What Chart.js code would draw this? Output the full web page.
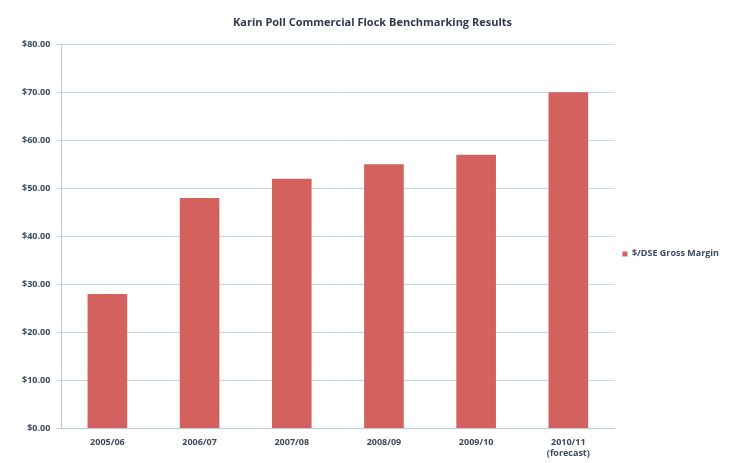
<!DOCTYPE html>
<html>
<head>
<meta charset="utf-8">
<script src="https://cdn.jsdelivr.net/npm/chart.js@4"></script>
<style>
  html, body { margin: 0; padding: 0; background: #fff; }
  #wrap { width: 753px; height: 463px; position: relative; }
</style>
</head>
<body>
<div id="wrap"><canvas id="gmChart"></canvas></div>
<script>
const seasons = ['2005/06', '2006/07', '2007/08', '2008/09', '2009/10', ['2010/11', '(forecast)']];
const grossMargin = [28, 48, 52, 55, 57, 70];
const yTicks = [0, 10, 20, 30, 40, 50, 60, 70, 80];

const ctx = document.getElementById('gmChart').getContext('2d');

new Chart(ctx, {
    type: 'bar',
    data: {
        labels: seasons,
        datasets: [{
            label: '$/DSE Gross Margin',
            data: grossMargin,
            backgroundColor: '#d3625e',
            borderWidth: 0,
            categoryPercentage: 1,
            barPercentage: 0.43
        }]
    },
    options: {
        responsive: true,
        maintainAspectRatio: false,
        animation: false,
        layout: { padding: { top: 14, right: 24, left: 16, bottom: -5 } },
        scales: {
            x: {
                grid: { display: false, drawTicks: false },
                border: { color: '#b9c9d9' },
                ticks: {
                    color: '#3b4a5e',
                    font: { family: 'Open Sans', size: 9, weight: 'bold' },
                    maxRotation: 0,
                    padding: 9
                }
            },
            y: {
                min: 0,
                max: 80,
                afterBuildTicks: axis => { axis.ticks = yTicks.map(v => ({ value: v })); },
                grid: { color: '#c8d8e8', tickLength: 5 },
                border: { color: '#b9c9d9' },
                ticks: {
                    color: '#3b4a5e',
                    font: { family: 'Open Sans', size: 9, weight: 'bold' },
                    padding: 6,
                    callback: v => '$' + v.toFixed(2)
                }
            }
        },
        plugins: {
            title: {
                display: true,
                text: 'Karin Poll Commercial Flock Benchmarking Results',
                color: '#2e3a4c',
                font: { family: 'Open Sans', size: 11, weight: 'bold' },
                padding: { top: 2, bottom: 15 }
            },
            legend: {
                position: 'right',
                title: {
                    display: true,
                    text: ' ',
                    font: { family: 'Open Sans', size: 9 },
                    padding: { top: 0, bottom: 15 }
                },
                labels: {
                    boxWidth: 5,
                    boxHeight: 5,
                    color: '#3b4a5e',
                    font: { family: 'Open Sans', size: 9, weight: 'bold' },
                    padding: 8
                }
            },
            tooltip: { enabled: false }
        }
    }
});
</script>
</body>
</html>
